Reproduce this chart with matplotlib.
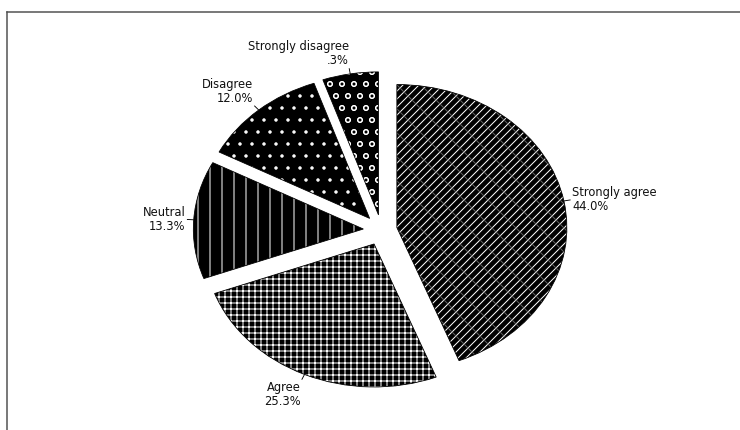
import numpy as np
import matplotlib
matplotlib.use("Agg")
import matplotlib.pyplot as plt
from matplotlib.patches import Wedge
from matplotlib.lines import Line2D

# Survey responses (percent of respondents)
categories = ["Strongly agree", "Agree", "Neutral", "Disagree", "Strongly disagree"]
percent = [44.0, 25.3, 13.3, 12.0, 5.3]
percent_labels = ["44.0%", "25.3%", "13.3%", "12.0%", ".3%"]

# Styling per slice
hatches = ["///", "++", "|", ".", "o"]
explode = [0.092, 0.107, 0.107, 0.107, 0.107]

W, H, DPI = 740, 430, 72
CENTER_PX = (381.5, 230.0)   # pie centre in pixels (from top-left)
RX, RY = 170.0, 143.0        # ellipse radii in pixels

plt.rcParams["font.family"] = ["DejaVu Sans"]
plt.rcParams["hatch.linewidth"] = 1.0

fig = plt.figure(figsize=(W / DPI, H / DPI), dpi=DPI)
ax = fig.add_axes([0, 0, 1, 1])

wedges, _ = ax.pie(percent, explode=explode, startangle=90, counterclock=False,
                   colors=["black"] * len(percent),
                   wedgeprops=dict(linewidth=0, edgecolor="white"))

for w, h in zip(wedges, hatches):
    w.set_hatch(h)
    w.set_edgecolor("white")

# faint cross lines on the largest slice
sa = wedges[0]
ax.add_patch(Wedge(sa.center, sa.r, sa.theta1, sa.theta2, facecolor="none",
                   edgecolor="#5e5e5e", hatch="\\", linewidth=0))

# thin dark outlines
for w in wedges:
    ax.add_patch(Wedge(w.center, w.r, w.theta1, w.theta2, facecolor="none",
                       edgecolor="black", linewidth=0.8))

# squash the pie into an ellipse
ax.set_aspect("auto")
ax.set_xlim(-CENTER_PX[0] / RX, (W - CENTER_PX[0]) / RX)
ax.set_ylim(-(H - CENTER_PX[1]) / RY, CENTER_PX[1] / RY)
ax.axis("off")

# labels with short leader ticks
for w, cat, pl in zip(wedges, categories, percent_labels):
    mid = np.deg2rad((w.theta1 + w.theta2) / 2)
    cx, cy = w.center
    c, s = np.cos(mid), np.sin(mid)
    ax.plot([cx + 1.0 * w.r * c, cx + 1.04 * w.r * c],
            [cy + 1.0 * w.r * s, cy + 1.04 * w.r * s],
            color="black", lw=0.9, solid_capstyle="butt")
    ha = "left" if c > 0 else "right"
    va = "bottom" if s > 0.5 else ("top" if s < -0.5 else "center")
    ax.text(cx + 1.05 * w.r * c, cy + 1.05 * w.r * s, f"{cat}\n{pl}",
            ha=ha, va=va, multialignment=ha, fontsize=11.5, color="#111111",
            linespacing=1.1)

# partial frame: top and left borders
y_top = 1 - 11.5 / H
x_left = 6.5 / W
fig.add_artist(Line2D([x_left, 1], [y_top, y_top], transform=fig.transFigure,
                      color="#505050", lw=1.5))
fig.add_artist(Line2D([x_left, x_left], [0, y_top], transform=fig.transFigure,
                      color="#505050", lw=1.5))

fig.savefig("out.png", dpi=DPI)
